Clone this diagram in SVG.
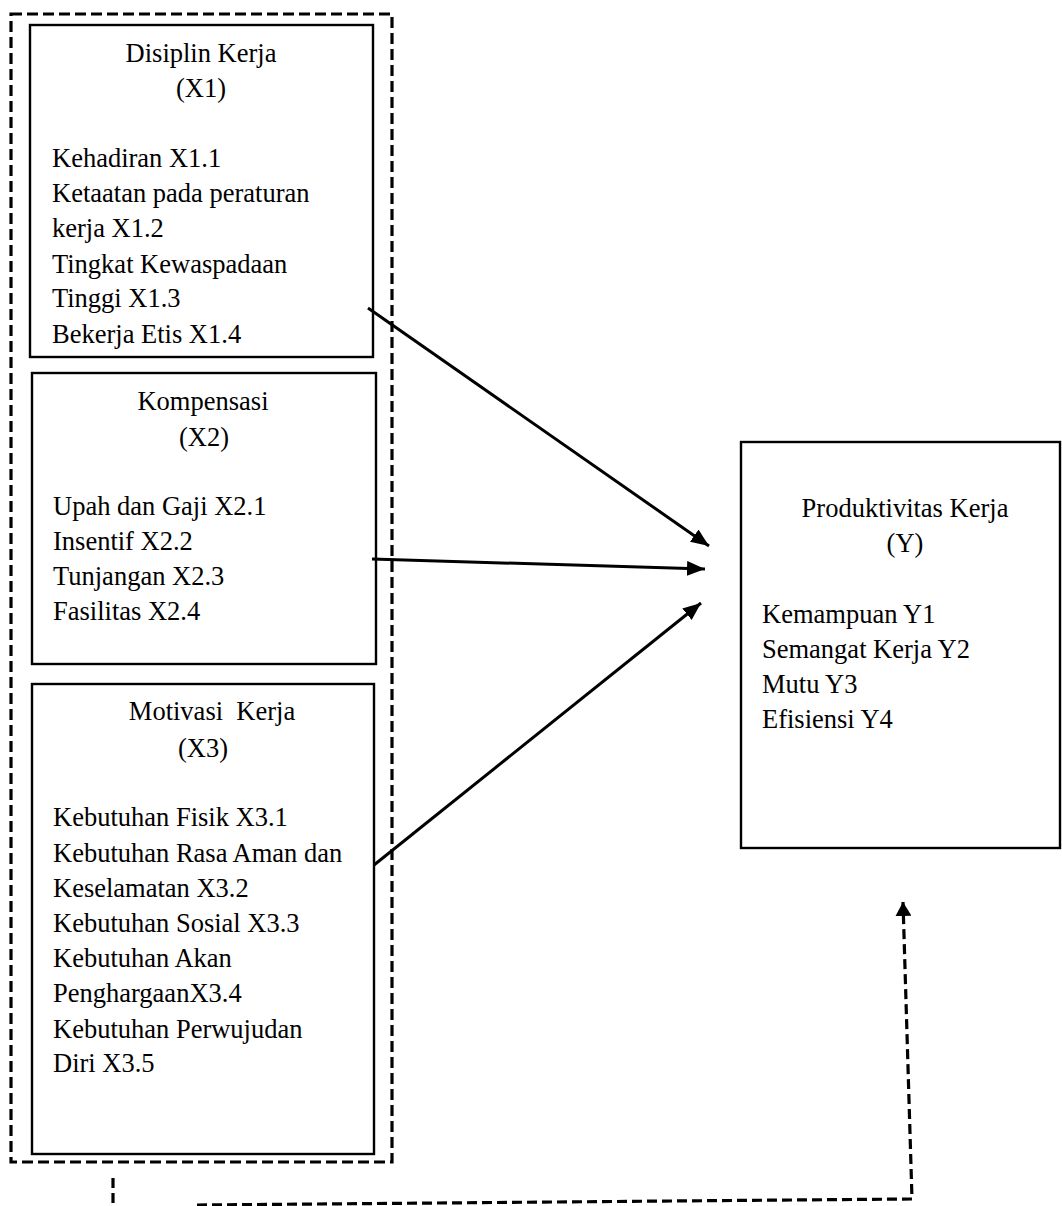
<svg xmlns="http://www.w3.org/2000/svg" width="1062" height="1206" viewBox="0 0 1062 1206">
<style>
text{font-family:"Liberation Serif",Tinos,"Times New Roman",Times,serif;font-size:26.5px;fill:#000;white-space:pre}
.c{text-anchor:middle}
.box{fill:#fff;stroke:#000;stroke-width:2.4}
.outer{fill:none;stroke:#000;stroke-width:3.2;stroke-dasharray:11 5}
.arr{fill:none;stroke:#000;stroke-width:3;marker-end:url(#ah)}
.dash{fill:none;stroke:#000;stroke-width:3.2;stroke-dasharray:10 5}
</style>
<defs>
<marker id="ah" markerUnits="userSpaceOnUse" markerWidth="20" markerHeight="16" refX="18" refY="7.5" orient="auto">
<path d="M0,0 L18,7.5 L0,15 z" fill="#000"/>
</marker>
<marker id="ah2" markerUnits="userSpaceOnUse" markerWidth="16" markerHeight="16" refX="14" refY="8" orient="auto">
<path d="M0,0 L14,8 L0,16 z" fill="#000"/>
</marker>
</defs>
<rect width="1062" height="1206" fill="#fff"/>
<g id="group-x">
<rect class="outer" x="11" y="14" width="381" height="1148"/>
</g>
<g id="node-x1">
<rect class="box" x="30" y="25" width="343" height="332"/>
<text class="c" x="201" y="62">Disiplin Kerja</text>
<text class="c" x="201" y="97">(X1)</text>
<text x="52" y="167">Kehadiran X1.1</text>
<text x="52" y="202">Ketaatan pada peraturan</text>
<text x="52" y="237">kerja X1.2</text>
<text x="52" y="273">Tingkat Kewaspadaan</text>
<text x="52" y="307">Tinggi X1.3</text>
<text x="52" y="343">Bekerja Etis X1.4</text>
</g>
<g id="node-x2">
<rect class="box" x="32" y="373" width="344" height="291"/>
<text class="c" x="203" y="410">Kompensasi</text>
<text class="c" x="204" y="446">(X2)</text>
<text x="53" y="515">Upah dan Gaji X2.1</text>
<text x="53" y="550">Insentif X2.2</text>
<text x="53" y="585">Tunjangan X2.3</text>
<text x="53" y="620">Fasilitas X2.4</text>
</g>
<g id="node-x3">
<rect class="box" x="32" y="684" width="342" height="470"/>
<text class="c" x="212" y="720">Motivasi  Kerja</text>
<text class="c" x="203" y="757">(X3)</text>
<text x="53" y="826">Kebutuhan Fisik X3.1</text>
<text x="53" y="862">Kebutuhan Rasa Aman dan</text>
<text x="53" y="897">Keselamatan X3.2</text>
<text x="53" y="932">Kebutuhan Sosial X3.3</text>
<text x="53" y="967">Kebutuhan Akan</text>
<text x="53" y="1002">PenghargaanX3.4</text>
<text x="53" y="1038">Kebutuhan Perwujudan</text>
<text x="53" y="1072">Diri X3.5</text>
</g>
<g id="node-y">
<rect class="box" x="741" y="442" width="319" height="406"/>
<text class="c" x="905" y="517">Produktivitas Kerja</text>
<text class="c" x="905" y="552">(Y)</text>
<text x="762" y="623">Kemampuan Y1</text>
<text x="762" y="658">Semangat Kerja Y2</text>
<text x="762" y="693">Mutu Y3</text>
<text x="762" y="728">Efisiensi Y4</text>
</g>
<g id="connectors">
<line class="arr" x1="368" y1="308" x2="709" y2="546"/>
<line class="arr" x1="372" y1="559" x2="705" y2="569"/>
<line class="arr" x1="374" y1="865" x2="701" y2="603"/>
<path class="dash" d="M113,1178 L113,1210"/>
<path class="dash" d="M197,1205 L912,1199 L903,902" style="marker-end:url(#ah2)"/>
</g>
</svg>
